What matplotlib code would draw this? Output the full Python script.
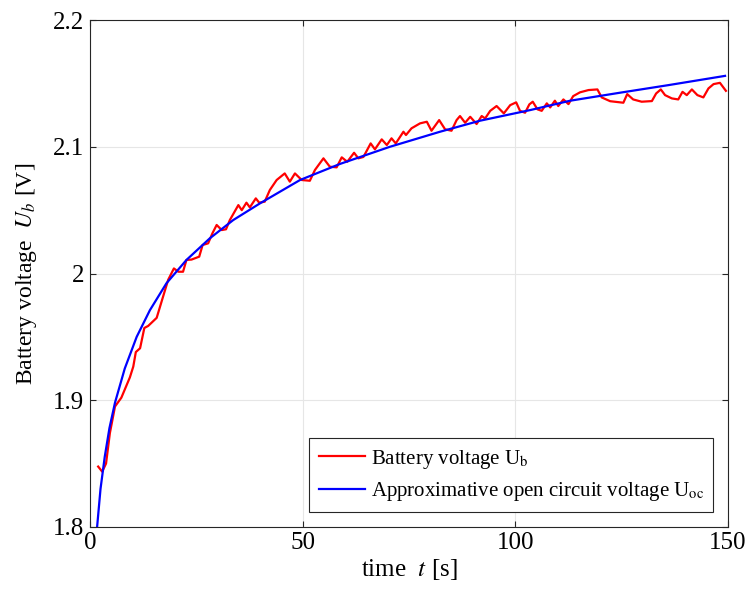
import matplotlib
matplotlib.use("Agg")
import matplotlib.pyplot as plt

plt.rcParams['font.family'] = ['Liberation Serif', 'DejaVu Serif']
plt.rcParams['mathtext.fontset'] = 'stix'

# measured battery voltage (red)
t_b = [1.95, 2.9, 3.8, 4.7, 5.9, 7.4, 9.4, 10.2, 10.8, 11.8, 12.8, 13.7, 15.7,
       17.2, 18.4, 19.75, 20.8, 21.9, 22.7, 23.9, 25.7, 26.5, 27.8, 28.8, 29.8,
       31.0, 32.0, 32.9, 34.9, 35.7, 36.8, 37.6, 39.0, 39.8, 41.1, 42.3, 43.9,
       45.8, 47.0, 48.2, 49.8, 51.7, 52.9, 54.9, 56.4, 58.0, 59.2, 60.5, 62.1,
       63.1, 64.3, 66.0, 67.0, 68.6, 69.8, 70.9, 71.9, 73.7, 74.3, 75.6, 77.6,
       79.2, 80.3, 82.1, 83.5, 85.0, 86.2, 87.0, 88.2, 89.4, 90.9, 92.1, 92.9,
       94.1, 95.6, 97.3, 98.8, 100.2, 101.1, 102.3, 103.3, 104.1, 105.2, 106.2,
       107.4, 108.2, 109.3, 110.1, 111.3, 112.5, 113.6, 115.2, 117.2, 119.3,
       120.3, 122.3, 125.4, 126.3, 127.7, 129.7, 132.1, 133.1, 134.2, 135.2,
       136.8, 138.3, 139.3, 140.3, 141.5, 142.8, 144.2, 145.4, 146.6, 148.1, 149.5]
u_b = [1.8476, 1.8436, 1.850, 1.874, 1.895, 1.902, 1.918, 1.9265, 1.938, 1.941,
       1.957, 1.9586, 1.965, 1.9817, 1.995, 2.004, 2.0014, 2.0014, 2.0107, 2.011,
       2.0133, 2.0225, 2.0238, 2.0317, 2.0383, 2.0343, 2.0349, 2.0422, 2.054,
       2.050, 2.0559, 2.0522, 2.0593, 2.0559, 2.0567, 2.0659, 2.0738, 2.079,
       2.0725, 2.079, 2.0738, 2.0732, 2.0817, 2.0909, 2.0843, 2.0838, 2.0917,
       2.0882, 2.0953, 2.0909, 2.092, 2.1027, 2.098, 2.1059, 2.1014, 2.1067,
       2.1027, 2.1119, 2.1093, 2.1146, 2.1185, 2.1198, 2.1127, 2.1211, 2.1138,
       2.1127, 2.1211, 2.1243, 2.119, 2.1237, 2.118, 2.1243, 2.1224, 2.1284,
       2.1322, 2.1264, 2.1329, 2.1351, 2.1284, 2.1269, 2.1335, 2.1356, 2.1296,
       2.1284, 2.1343, 2.1311, 2.1364, 2.1322, 2.1374, 2.1337, 2.14, 2.143,
       2.1448, 2.1453, 2.139, 2.136, 2.1348, 2.1416, 2.1374, 2.1356, 2.1361,
       2.1421, 2.1453, 2.1408, 2.1382, 2.1374, 2.1434, 2.1408, 2.1453, 2.1408,
       2.139, 2.1461, 2.1495, 2.1505, 2.1442]

# approximated open circuit voltage (blue)
t_oc = [1.7, 2.5, 3.5, 4.6, 5.9, 8.2, 11.0, 14.1, 18.0, 22.7, 28.2, 33.7, 40.0,
        49.4, 58.8, 70.5, 82.3, 91.7, 103.5, 112.9, 124.6, 136.0, 149.3]
u_oc = [1.800, 1.830, 1.8555, 1.878, 1.898, 1.925, 1.950, 1.971, 1.9923, 2.0107,
        2.0278, 2.0422, 2.0554, 2.0738, 2.0865, 2.100, 2.1119, 2.1206, 2.129,
        2.1364, 2.1427, 2.1487, 2.156]

fig = plt.figure(figsize=(7.49, 5.92), dpi=100)
ax = fig.add_axes([0.120, 0.110, 0.852, 0.856])

ax.plot(t_b, u_b, color='#ff0000', lw=1.6, label=r'Battery voltage U$_{\mathrm{b}}$')
ax.plot(t_oc, u_oc, color='#0000ff', lw=1.6,
        label=r'Approximative open circuit voltage U$_{\mathrm{oc}}$')

ax.set_xlim(0, 150)
ax.set_ylim(1.8, 2.2)
ax.set_xticks([0, 50, 100, 150])
ax.set_xticklabels(['0', '50', '100', '150'])
ax.set_yticks([1.8, 1.9, 2.0, 2.1, 2.2])
ax.set_yticklabels(['1.8', '1.9', '2', '2.1', '2.2'])
ax.grid(True, color='#e6e6e6', lw=0.8)
ax.set_axisbelow(True)
ax.tick_params(direction='in', labelsize=18, top=True, right=True,
               length=4, color='#262626', pad=4)
for s in ax.spines.values():
    s.set_color('#262626')
    s.set_linewidth(0.8)

ax.set_xlabel(r'time  $t$ [s]', fontsize=18, labelpad=2)
ax.set_ylabel(r'Battery voltage  $U_b$ [V]', fontsize=17, labelpad=10)

leg = ax.legend(loc='lower right', fontsize=15, fancybox=False, framealpha=1,
                edgecolor='#262626', handlelength=2.2, borderaxespad=0.7,
                handletextpad=0.3, labelspacing=0.45, borderpad=0.45)
leg.get_frame().set_linewidth(0.8)

fig.savefig('out.png', dpi=100)
